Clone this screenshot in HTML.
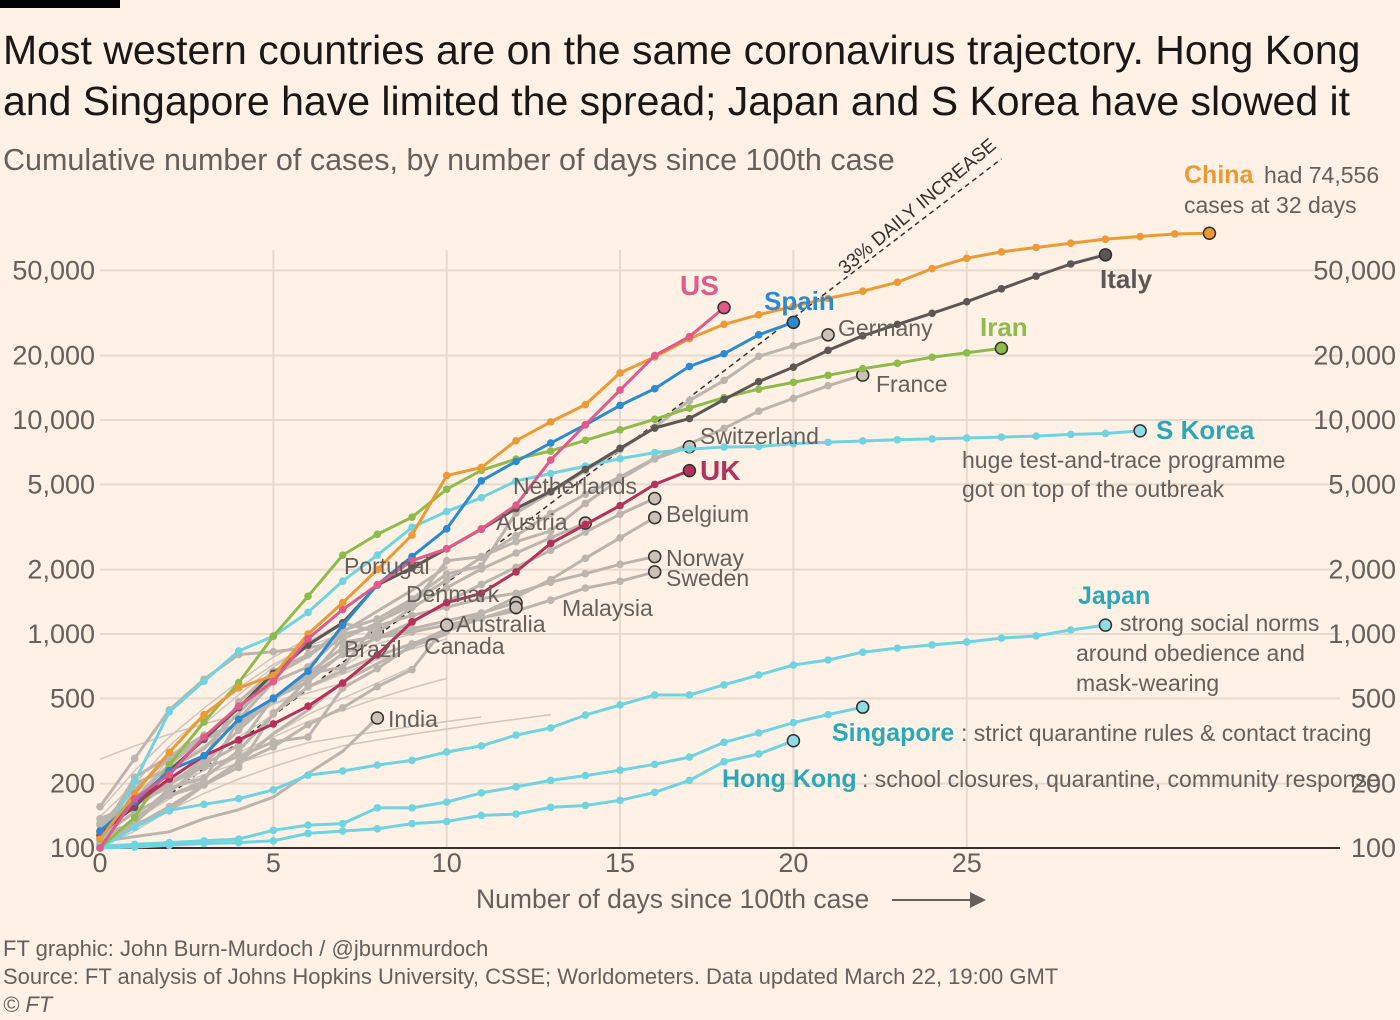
<!DOCTYPE html>
<html><head><meta charset="utf-8"><style>
body{margin:0;background:#fff1e5;}
svg{display:block;font-family:"Liberation Sans",sans-serif;}
</style></head><body>
<svg id="chart" width="1400" height="1020" viewBox="0 0 1400 1020">
<rect x="0" y="0" width="1400" height="1020" fill="#fff1e5"/>
<rect x="0" y="0" width="120" height="8" fill="#000"/>
<text x="3" y="64" font-size="41" fill="#1a1817">Most western countries are on the same coronavirus trajectory. Hong Kong</text>
<text x="3" y="115" font-size="41" fill="#1a1817">and Singapore have limited the spread; Japan and S Korea have slowed it</text>
<text x="3" y="170" font-size="30.5" fill="#66605c">Cumulative number of cases, by number of days since 100th case</text>
<g id="grid"></g>
<g id="axes"></g>
<g id="series"></g>
<g id="labels"></g>
<text x="476" y="908" font-size="26.5" fill="#66605c">Number of days since 100th case</text>
<line x1="892" y1="900" x2="975" y2="900" stroke="#66605c" stroke-width="2"/>
<path d="M970,892 L986,900 L970,908 Z" fill="#66605c"/>
<text x="3" y="956" font-size="22" fill="#66605c">FT graphic: John Burn-Murdoch / @jburnmurdoch</text>
<text x="3" y="984" font-size="22" fill="#66605c">Source: FT analysis of Johns Hopkins University, CSSE; Worldometers. Data updated March 22, 19:00 GMT</text>
<text x="3" y="1012" font-size="22" fill="#66605c" font-style="italic">© FT</text>
</svg>
<script>
const xTicks = [0,5,10,15,20,25];
const yTicks = [100,200,500,1000,2000,5000,10000,20000,50000];
const yTickLabels = ["100","200","500","1,000","2,000","5,000","10,000","20,000","50,000"];

const china = [110,180,280,420,560,640,1000,1400,2000,2900,5500,6000,8000,9800,11800,16600,19700,24000,28000,31000,34000,37000,40000,44000,51000,57000,61000,64000,67000,70000,72000,74000,74556];
const us = [100,170,220,330,460,600,950,1300,1700,2200,2500,3100,4000,6500,9500,13800,20000,24500,33500];
const spain = [120,165,230,270,400,500,670,1100,1700,2300,3100,5200,6400,7800,9500,11700,14000,17800,20400,25000,28600];
const italy = [120,155,229,322,453,655,888,1128,1694,2036,2502,3089,3858,4636,5883,7375,9172,10149,12462,15113,17660,21157,24747,27980,31506,35713,41035,47021,53578,59138];
const iran = [100,139,245,388,593,978,1501,2336,2922,3513,4747,5823,6566,7161,8042,9000,10075,11364,12729,13938,14991,16169,17361,18407,19644,20610,21638];
const skorea = [104,204,433,602,833,977,1261,1766,2337,3150,3736,4335,5186,5621,6088,6593,7041,7314,7478,7513,7755,7869,7979,8086,8162,8236,8320,8413,8565,8652,8897];
const japan = [100,125,150,160,170,187,219,229,244,257,281,300,337,364,418,466,519,519,579,643,716,756,822,859,889,918,957,979,1044,1100];
const singapore = [102,104,106,108,110,121,128,130,154,154,164,181,193,207,218,231,246,266,312,345,385,420,455];
const hongkong = [100,101,103,105,106,108,117,120,123,130,133,142,144,155,158,167,182,207,253,275,317];
const uk = [115,160,210,270,320,380,460,590,800,1140,1400,1550,1950,2650,3250,3980,5000,5800];

const germany = [130,159,196,262,482,670,799,1040,1176,1457,1908,2078,3675,4585,5795,7272,9257,12327,15320,19848,22213,25000];
const france = [100,130,191,212,285,423,613,949,1126,1412,1784,2281,2876,3661,4499,5423,6633,7730,9134,10995,12612,14459,16200];
const switzerland = [114,214,268,337,374,491,652,700,1139,1359,2200,2300,2700,3028,4075,5294,6575,7500];
const netherlands = [128,188,265,321,382,503,631,804,959,1135,1413,1705,2051,2460,2994,3631,4300];
const belgium = [109,169,200,239,267,314,330,559,689,886,1058,1243,1486,1795,2257,2815,3500];
const austria = [104,131,182,246,302,504,655,860,1018,1332,1646,2013,2388,2814,3300];
const norway = [113,147,176,205,400,598,702,996,1090,1221,1333,1463,1550,1746,1914,2118,2300];
const sweden = [137,161,203,248,355,500,599,814,961,1022,1103,1190,1279,1439,1639,1763,1950];
const denmark = [156,262,442,615,801,827,864,914,977,1057,1151,1255,1400];
const malaysia = [117,129,149,197,238,428,566,673,790,900,1030,1183,1330];
const australia = [112,127,156,197,250,297,377,452,568,681,1100];
const canada = [103,138,176,197,252,342,441,598,727,873,1000];
const brazil = [121,200,234,291,428,621,904,1128,1021];
const portugal = [112,169,245,331,448,642,785,1020,1280,1600,2060];
const india = [107,113,119,137,151,173,223,283,405];
const bg1 = [110,150,200,260,330,420,560,700,900,1000];
const bg2 = [130,180,240,300,380,470,560,650,760,850,950];
const bg3 = [120,170,260,380,520,700,900,1100];
const bg4 = [260,300,340,380,420,470,530,590];
const bg5 = [100,140,190,230,280,330,390,440,500,560,620];
const bg6 = [150,230,330,450,600,780,950];
const bg7 = [100,120,150,180,210,240,270,300,320,340,360,380,400,420];
const bg8 = [140,200,300,420,560,720,880,1000];
const bg9 = [105,135,170,215,270,340,420,500,590,700];
const bg10 = [120,160,190,220,250,280,310,330,350,370,390,410];
const dailyLine = [100, 1.33];

const NS="http://www.w3.org/2000/svg";
const xs = d => 100 + d*34.67;
const ys = v => 848 - 214*Math.log10(v/100);
function mk(tag, attrs, parent){const e=document.createElementNS(NS,tag);for(const k in attrs)e.setAttribute(k,attrs[k]);parent.appendChild(e);return e;}
const grid=document.getElementById('grid'), axes=document.getElementById('axes'), ser=document.getElementById('series'), lab=document.getElementById('labels');

yTicks.forEach((t,i)=>{
  const y=ys(t);
  if(i>0){const g=mk('line',{x1:100,x2:1340,y1:y,y2:y,stroke:'#e6d9ce','stroke-width':2},grid);
  
  }
  const l=mk('text',{x:95,y:y+9,'text-anchor':'end','font-size':27,fill:'#66605c'},axes);l.textContent=yTickLabels[i];
  
  
  const r=mk('text',{x:1396,y:y+9,'text-anchor':'end','font-size':27,fill:'#66605c'},axes);r.textContent=yTickLabels[i];
  
  
});
xTicks.forEach(t=>{
  const x=xs(t);
  if(t>0){const g=mk('line',{x1:x,x2:x,y1:ys(100),y2:250,stroke:'#e6d9ce','stroke-width':2},grid);
  
  }
  const l=mk('text',{x:x,y:872,'text-anchor':'middle','font-size':27,fill:'#66605c'},axes);l.textContent=t;
  
  
});
const ax=mk('line',{x1:100,x2:1340,y1:848,y2:848,stroke:'#33302e','stroke-width':2},axes);



const nd=26;
const dl=mk('line',{x1:xs(0),y1:ys(dailyLine[0]),x2:xs(nd),y2:ys(dailyLine[0]*Math.pow(dailyLine[1],nd)),stroke:'#33302e','stroke-width':1.5,'stroke-dasharray':'5,4'},ser);


const dlt=mk('text',{x:0,y:0,'font-size':19,fill:'#33302e',transform:'translate(845,275) rotate(-40)'},ser);
dlt.textContent='33% DAILY INCREASE';



function line(arr,color,w,dots,name,endDot){
  const pts=arr.map((v,i)=>xs(i).toFixed(1)+','+ys(v).toFixed(1)).join(' ');
  const p=mk('polyline',{points:pts,fill:'none',stroke:color,'stroke-width':w,'stroke-linejoin':'round'},ser);
  
  
  if(dots){arr.forEach((v,i)=>{const c=mk('circle',{cx:xs(i),cy:ys(v),r:3.8,fill:color},ser);
    
    });}
  if(endDot){const n=arr.length-1;const c=mk('circle',{cx:xs(n),cy:ys(arr[n]),r:6,fill:endDot,stroke:'#33302e','stroke-width':1.5},ser);
    
    }
}
[bg1,bg2,bg3,bg4,bg5,bg6,bg7,bg8,bg9,bg10].forEach(a=>line(a,'#cfc6bd',1.5,false,'other-country',null));
[canada,portugal,india,brazil].forEach((a,i)=>line(a,'#bcb5ae',3,false,['canada','portugal','india','brazil'][i],i==0||i==1?null:'#ccc1b7'));
const greys={germany,france,switzerland,netherlands,belgium,austria,norway,sweden,denmark,malaysia,australia};
for(const k in greys) line(greys[k],'#bcb5ae',3,true,k,'#ccc1b7');
line(hongkong,'#6fd3e0',3,true,'hong-kong','#8fdbe6');
line(singapore,'#6fd3e0',3,true,'singapore','#8fdbe6');
line(japan,'#6fd3e0',3,true,'japan','#8fdbe6');
line(skorea,'#6fd3e0',3,true,'s-korea','#8fdbe6');
line(iran,'#8fba4c',3,true,'iran','#8fba4c');
line(italy,'#5c5655',3,true,'italy','#5c5655');
line(uk,'#b5315a',3,true,'uk','#b5315a');
line(spain,'#2b8ad0',3,true,'spain','#2b8ad0');
line(china,'#eb9a35',3,true,'china','#eb9a35');
line(us,'#e05a8a',3,true,'us','#e05a8a');

function txt(x,y,s,size,color,bold,name){
  const t=mk('text',{x:x,y:y,'font-size':size,fill:color},lab);
  if(bold)t.setAttribute('font-weight','bold');
  t.textContent=s;
  
  
  return t;
}
txt(1184,183,'China',25,'#eb9a35',true,'china-label');
txt(1264,183,'had 74,556',23,'#66605c',false,'china-note-1');
txt(1184,213,'cases at 32 days',23,'#66605c',false,'china-note-2');
txt(680,295,'US',28,'#e05a8a',true,'us-label');
txt(764,310,'Spain',26,'#2b8ad0',true,'spain-label');
txt(1100,288,'Italy',26,'#5c5655',true,'italy-label');
txt(980,336,'Iran',26,'#8fba4c',true,'iran-label');
txt(838,336,'Germany',23,'#66605c',false,'germany-label');
txt(876,392,'France',23,'#66605c',false,'france-label');
txt(700,444,'Switzerland',23,'#66605c',false,'switzerland-label');
txt(700,480,'UK',28,'#b5315a',true,'uk-label');
txt(513,494,'Netherlands',23,'#66605c',false,'netherlands-label');
txt(666,522,'Belgium',23,'#66605c',false,'belgium-label');
txt(496,530,'Austria',23,'#66605c',false,'austria-label');
txt(666,566,'Norway',23,'#66605c',false,'norway-label');
txt(666,586,'Sweden',23,'#66605c',false,'sweden-label');
txt(344,574,'Portugal',23,'#66605c',false,'portugal-label');
txt(406,602,'Denmark',23,'#66605c',false,'denmark-label');
txt(562,616,'Malaysia',23,'#66605c',false,'malaysia-label');
txt(456,632,'Australia',23,'#66605c',false,'australia-label');
txt(424,654,'Canada',23,'#66605c',false,'canada-label');
txt(344,657,'Brazil',23,'#66605c',false,'brazil-label');
txt(388,727,'India',23,'#66605c',false,'india-label');
txt(1156,439,'S Korea',26,'#2aa8b8',true,'s-korea-label');
txt(962,468,'huge test-and-trace programme',23,'#66605c',false,'s-korea-note-1');
txt(962,497,'got on top of the outbreak',23,'#66605c',false,'s-korea-note-2');
txt(1078,604,'Japan',25,'#2aa8b8',true,'japan-label');
txt(1120,631,'strong social norms',23,'#66605c',false,'japan-note-1');
txt(1076,661,'around obedience and',23,'#66605c',false,'japan-note-2');
txt(1076,691,'mask-wearing',23,'#66605c',false,'japan-note-3');
txt(832,741,'Singapore',25,'#2aa8b8',true,'singapore-label');
txt(961,741,': strict quarantine rules & contact tracing',23,'#66605c',false,'singapore-note');
txt(722,787,'Hong Kong',25,'#2aa8b8',true,'hong-kong-label');
txt(862,787,': school closures, quarantine, community response',23,'#66605c',false,'hong-kong-note');
</script>
</body></html>
